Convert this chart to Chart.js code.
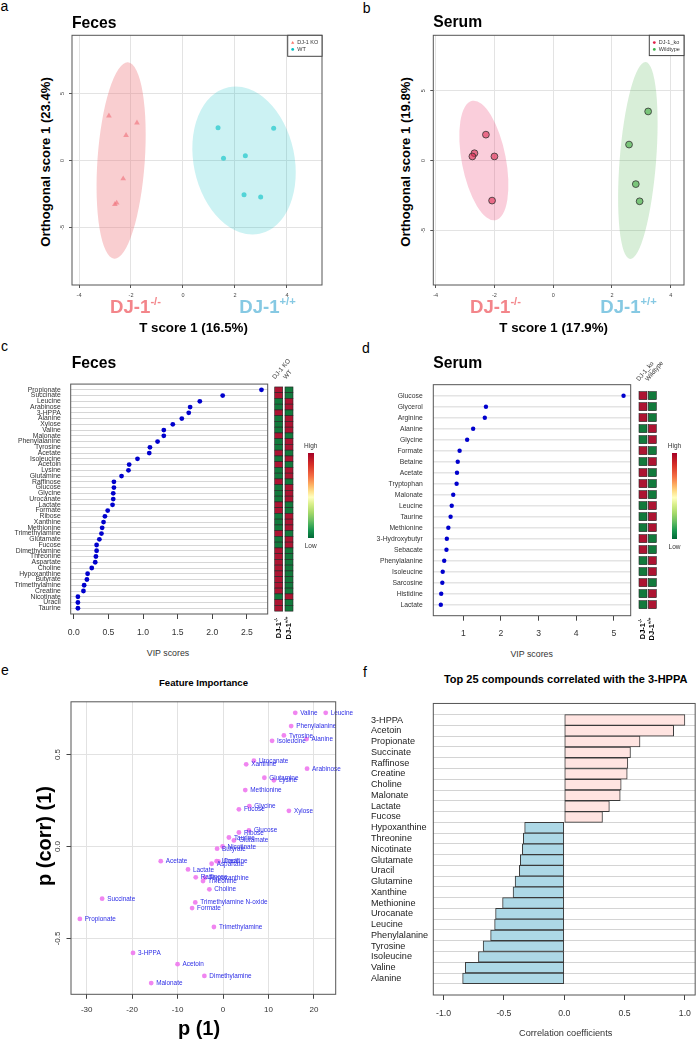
<!DOCTYPE html>
<html>
<head>
<meta charset="utf-8">
<title>DJ-1 metabolomics</title>
<script src="https://cdn.jsdelivr.net/npm/chart.js@4.4.1/dist/chart.umd.min.js"></script>
<style>
  body { margin: 0; width: 699px; height: 1039px; position: relative; overflow: hidden; background: #fff;
         font-family: "Liberation Sans", Arial, sans-serif; color: #000; }
  canvas { position: absolute; }
  .t { position: absolute; white-space: nowrap; line-height: 1; }
  .t sup { font-size: 60%; line-height: 0; vertical-align: 0.7em; }
  .c { transform: translate(-50%, -50%); }
  .l { transform: translateY(-50%); }
  .r { transform: translate(-50%, -50%) rotate(-90deg); }
  .h { transform-origin: 0 100%; transform: rotate(-50deg); font-size: 6.3px; color: #333; }
  .ko { color: #F3858A; font-weight: bold; font-size: 18.6px; }
  .wt { color: #86C9E3; font-weight: bold; font-size: 18.6px; }
  .ttl { font-weight: bold; font-size: 15.7px; }
  .let { font-size: 14px; }
  .scale { position: absolute; width: 6px;
           background: linear-gradient(to bottom, #A50026, #D73027 14%, #F46D43 27%, #FDAE61 37%, #FEE08B 45%, #FFFFBF 52%, #D9EF8B 60%, #A6D96A 70%, #66BD63 80%, #1A9850 90%, #006837); }
  .small { font-size: 6.5px; color: #333; }
  .dj { font-size: 7.5px; font-weight: bold; }
</style>
</head>
<body>

<canvas id="ca" width="270" height="275" style="left:60px;top:28px"></canvas>
<canvas id="cb" width="275" height="275" style="left:415px;top:28px"></canvas>
<canvas id="cc" width="330" height="275" style="left:0px;top:370px"></canvas>
<canvas id="cd" width="339" height="275" style="left:360px;top:370px"></canvas>
<canvas id="ce" width="320" height="330" style="left:40px;top:695px"></canvas>
<canvas id="cf" width="328" height="330" style="left:371px;top:695px"></canvas>

<!-- panel letters and titles -->
<div class="t c let" style="left:4.5px;top:5.5px">a</div>
<div class="t c let" style="left:366.7px;top:8px">b</div>
<div class="t c let" style="left:4.5px;top:346.3px">c</div>
<div class="t c let" style="left:365.8px;top:347.5px">d</div>
<div class="t c let" style="left:5px;top:670px">e</div>
<div class="t c let" style="left:365px;top:672px">f</div>

<div class="t l ttl" style="left:72px;top:22.7px">Feces</div>
<div class="t l ttl" style="left:433.3px;top:22.3px">Serum</div>
<div class="t l ttl" style="left:71.7px;top:363px">Feces</div>
<div class="t l ttl" style="left:433.3px;top:363px">Serum</div>

<!-- score plot axis titles -->
<div class="t r" style="left:45.7px;top:162px;font-weight:bold;font-size:13.1px">Orthogonal score 1 (23.4%)</div>
<div class="t r" style="left:406px;top:161.5px;font-weight:bold;font-size:13.1px">Orthogonal score 1 (19.8%)</div>
<div class="t c ko" style="left:135.5px;top:306.7px">DJ-1<sup>-/-</sup></div>
<div class="t c wt" style="left:267.5px;top:306.7px">DJ-1<sup>+/+</sup></div>
<div class="t c ko" style="left:495.5px;top:306.7px">DJ-1<sup>-/-</sup></div>
<div class="t c wt" style="left:628.5px;top:306.7px">DJ-1<sup>+/+</sup></div>
<div class="t c" style="left:193.5px;top:328px;font-weight:bold;font-size:13.3px">T score 1 (16.5%)</div>
<div class="t c" style="left:553.7px;top:328px;font-weight:bold;font-size:13.3px">T score 1 (17.9%)</div>

<!-- VIP panels extras -->
<div class="t c" style="left:168px;top:652.7px;font-size:8.8px;color:#333">VIP scores</div>
<div class="t c" style="left:531.7px;top:653.7px;font-size:8.8px;color:#333">VIP scores</div>
<div class="t h" style="left:276px;top:373.7px">DJ-1 KO</div>
<div class="t h" style="left:286.5px;top:373.7px">WT</div>
<div class="t h" style="left:640px;top:376px">DJ-1_ko</div>
<div class="t h" style="left:649px;top:376px">Wildtype</div>
<div class="t r dj" style="left:278.7px;top:628px">DJ-1<sup>-/-</sup></div>
<div class="t r dj" style="left:289px;top:628px">DJ-1<sup>+/+</sup></div>
<div class="t r dj" style="left:643px;top:628.5px">DJ-1<sup>-/-</sup></div>
<div class="t r dj" style="left:652.3px;top:628.5px">DJ-1<sup>+/+</sup></div>
<div class="scale" style="left:307.7px;top:453.3px;height:85px"></div>
<div class="scale" style="left:671.7px;top:453.3px;height:86px;width:5.6px"></div>
<div class="t c small" style="left:310.7px;top:445.7px">High</div>
<div class="t c small" style="left:310.7px;top:545.7px">Low</div>
<div class="t c small" style="left:674.5px;top:445.7px">High</div>
<div class="t c small" style="left:674.5px;top:546.7px">Low</div>

<!-- e / f titles -->
<div class="t c" style="left:203.5px;top:682.7px;font-weight:bold;font-size:9.6px">Feature Importance</div>
<div class="t r" style="left:43.5px;top:836px;font-weight:bold;font-size:20px">p (corr) (1)</div>
<div class="t c" style="left:199px;top:1028px;font-weight:bold;font-size:20px">p (1)</div>
<div class="t c" style="left:565.7px;top:679.3px;font-weight:bold;font-size:11px">Top 25 compounds correlated with the 3-HPPA</div>
<div class="t c" style="left:565.7px;top:1034.3px;font-size:9.2px;color:#333">Correlation coefficients</div>

<script>
// ---- a: feces OPLS-DA scores ----
const aKoX = [-2.85, -1.77, -2.19, -2.30, -2.55, -2.62];
const aKoY = [3.34, 2.82, 1.88, -1.36, -3.17, -3.27];
const aWtX = [1.35, 3.49, 1.56, 2.40, 2.35, 2.99];
const aWtY = [2.45, 2.40, 0.17, 0.35, -2.55, -2.72];
// confidence ellipses: [cx, cy, rx, ry, rotation deg]
const aKoEllipse = [-2.38, 0, 0.91, 7.35, 4];
const aWtEllipse = [2.35, 0, 1.94, 5.6, -12];
const aXTicks = [-4, -2, 0, 2, 4];
const aYTicks = [-5, 0, 5];

// ---- b: serum OPLS-DA scores ----
const bKoX = [-2.29, -2.68, -2.75, -2.00, -2.08];
const bKoY = [1.85, 0.52, 0.29, 0.29, -2.87];
const bWtX = [3.23, 2.58, 2.81, 2.94];
const bWtY = [3.51, 1.14, -1.69, -2.92];
const bKoEllipse = [-2.36, 0, 0.75, 4.35, -11];
const bWtEllipse = [2.88, 0, 0.62, 7.07, 4.5];
const bXTicks = [-4, -2, 0, 2, 4];
const bYTicks = [-5, 0, 5];

// ---- c: feces VIP ----
const fecesNames = ['Propionate', 'Succinate', 'Leucine', 'Arabinose', '3-HPPA', 'Alanine', 'Xylose', 'Valine',
  'Malonate', 'Phenylalanine', 'Tyrosine', 'Acetate', 'Isoleucine', 'Acetoin', 'Lysine', 'Glutamine', 'Raffinose',
  'Glucose', 'Glycine', 'Urocanate', 'Lactate', 'Formate', 'Ribose', 'Xanthine', 'Methionine', 'Trimethylamine',
  'Glutamate', 'Fucose', 'Dimethylamine', 'Threonine', 'Aspartate', 'Choline', 'Hypoxanthine', 'Butyrate',
  'Trimethylamine', 'Creatine', 'Nicotinate', 'Uracil', 'Taurine'];
const fecesVip = [2.71, 2.15, 1.82, 1.68, 1.66, 1.56, 1.43, 1.30, 1.30, 1.21, 1.10, 1.09, 0.92, 0.80, 0.79, 0.69,
  0.58, 0.58, 0.57, 0.57, 0.56, 0.49, 0.45, 0.43, 0.41, 0.40, 0.37, 0.33, 0.33, 0.32, 0.31, 0.26, 0.20, 0.19,
  0.15, 0.14, 0.06, 0.06, 0.06];
// 1 = higher in DJ-1 KO (red in KO column)
const fecesKoHigh = [1, 1, 0, 0, 1, 0, 0, 0, 1, 0, 0, 1, 0, 1, 0, 0, 1, 0, 0, 0, 1, 1, 0, 0, 0, 1, 0, 0, 1, 1,
  1, 1, 1, 1, 1, 1, 0, 1, 1];
const fecesVipTicks = [0, 0.5, 1, 1.5, 2, 2.5];

// ---- d: serum VIP ----
const serumNames = ['Glucose', 'Glycerol', 'Arginine', 'Alanine', 'Glycine', 'Formate', 'Betaine', 'Acetate',
  'Tryptophan', 'Malonate', 'Leucine', 'Taurine', 'Methionine', '3-Hydroxybutyr', 'Sebacate', 'Phenylalanine',
  'Isoleucine', 'Sarcosine', 'Histidine', 'Lactate'];
const serumVip = [5.26, 1.60, 1.57, 1.26, 1.10, 0.90, 0.85, 0.83, 0.82, 0.73, 0.69, 0.66, 0.60, 0.56, 0.55, 0.49,
  0.45, 0.44, 0.41, 0.40];
const serumKoHigh = [1, 1, 1, 0, 0, 1, 0, 1, 1, 1, 0, 0, 0, 1, 1, 0, 0, 1, 0, 0];
const serumVipTicks = [1, 2, 3, 4, 5];

// ---- e: S-plot ----
const eNames = ['Valine', 'Leucine', 'Phenylalanine', 'Tyrosine', 'Isoleucine', 'Alanine', 'Urocanate', 'Xanthine',
  'Arabinose', 'Glutamine', 'Lysine', 'Methionine', 'Glycine', 'Fucose', 'Xylose', 'Glucose', 'Ribose', 'Taurine',
  'Glutamate', 'Nicotinate', 'Butyrate', 'Acetate', 'Uracil', 'Creatine', 'Aspartate', 'Lactate', 'Raffinose',
  'Hypoxanthine', 'Threonine', 'Choline', 'Succinate', 'Trimethylamine N-oxide', 'Formate', 'Propionate',
  'Trimethylamine', '3-HPPA', 'Acetoin', 'Dimethylamine', 'Malonate'];
const eP = [15.9, 22.6, 15.0, 13.4, 10.8, 18.4, 6.8, 5.1, 18.5, 9.1, 11.2, 4.9, 5.8, 3.5, 14.5, 5.7, 3.5, 1.3,
  2.4, -0.1, -1.3, -13.7, -1.4, -1.0, -2.5, -7.7, -6.0, -4.0, -4.4, -3.0, -26.6, -6.1, -6.8, -31.5, -2.0, -19.8,
  -10.0, -4.1, -15.8];
const ePcorr = [0.727, 0.727, 0.655, 0.604, 0.575, 0.584, 0.467, 0.447, 0.423, 0.374, 0.360, 0.307, 0.219, 0.202,
  0.194, 0.088, 0.076, 0.049, 0.033, 0.0, -0.012, -0.080, -0.080, -0.081, -0.094, -0.125, -0.168, -0.170, -0.188,
  -0.233, -0.284, -0.304, -0.335, -0.394, -0.438, -0.579, -0.640, -0.704, -0.743];
const eXTicks = [-30, -20, -10, 0, 10, 20];
const eYTicks = [-0.5, 0, 0.5];

// ---- f: correlation with 3-HPPA ----
const fNames = ['3-HPPA', 'Acetoin', 'Propionate', 'Succinate', 'Raffinose', 'Creatine', 'Choline', 'Malonate',
  'Lactate', 'Fucose', 'Hypoxanthine', 'Threonine', 'Nicotinate', 'Glutamate', 'Uracil', 'Glutamine', 'Xanthine',
  'Methionine', 'Urocanate', 'Leucine', 'Phenylalanine', 'Tyrosine', 'Isoleucine', 'Valine', 'Alanine'];
const fCorr = [1.0, 0.907, 0.628, 0.549, 0.527, 0.522, 0.472, 0.464, 0.374, 0.317, -0.328, -0.339, -0.347, -0.364,
  -0.372, -0.407, -0.424, -0.511, -0.569, -0.577, -0.610, -0.672, -0.711, -0.820, -0.842];
const fTicks = [-1, -0.5, 0, 0.5, 1];

const FONT = '"Liberation Sans", Arial, sans-serif';
Chart.defaults.font.family = FONT;
Chart.defaults.color = '#333';
Chart.defaults.animation = false;
Chart.defaults.plugins.legend.display = false;
Chart.defaults.plugins.tooltip.enabled = false;

const HI = '#AD1432', LO = '#127A3C';

// box around the plotting region
Chart.register({
  id: 'frame',
  afterDraw(chart) {
    const { ctx, chartArea: a } = chart;
    ctx.save();
    ctx.strokeStyle = '#555';
    ctx.lineWidth = 1;
    ctx.strokeRect(a.left, a.top, a.right - a.left, a.bottom - a.top);
    ctx.restore();
  }
});

// filled confidence ellipses, in data units
Chart.register({
  id: 'ellipses',
  beforeDatasetsDraw(chart, args, o) {
    if (!o.items) return;
    const { ctx, scales: { x, y } } = chart;
    ctx.save();
    ctx.beginPath();
    ctx.rect(chart.chartArea.left, chart.chartArea.top, chart.chartArea.width, chart.chartArea.height);
    ctx.clip();
    o.items.forEach(({ e, color }) => {
      const [cx, cy, rx, ry, rot] = e;
      const px = x.getPixelForValue(cx), py = y.getPixelForValue(cy);
      const rpx = Math.abs(x.getPixelForValue(cx + rx) - px);
      const rpy = Math.abs(y.getPixelForValue(cy + ry) - py);
      ctx.beginPath();
      ctx.ellipse(px, py, rpx, rpy, rot * Math.PI / 180, 0, Math.PI * 2);
      ctx.fillStyle = color;
      ctx.fill();
    });
    ctx.restore();
  }
});

// small boxed legend in the top-right corner
Chart.register({
  id: 'boxLegend',
  afterDraw(chart, args, o) {
    if (!o.items) return;
    const { ctx, chartArea: a } = chart;
    const x0 = a.right - o.w, y0 = a.top;
    ctx.save();
    ctx.fillStyle = '#fff';
    ctx.fillRect(x0, y0, o.w, o.h);
    ctx.strokeStyle = '#444';
    ctx.strokeRect(x0, y0, o.w, o.h);
    ctx.font = '5.5px ' + FONT;
    ctx.textBaseline = 'middle';
    o.items.forEach((it, i) => {
      const y = y0 + 7.3 + i * 6.8;
      const x = x0 + 5;
      ctx.fillStyle = it.color;
      ctx.beginPath();
      if (it.style === 'triangle') {
        ctx.moveTo(x, y - 1.6); ctx.lineTo(x + 1.6, y + 1.2); ctx.lineTo(x - 1.6, y + 1.2); ctx.closePath();
      } else {
        ctx.arc(x, y, 1.4, 0, Math.PI * 2);
      }
      ctx.fill();
      ctx.fillStyle = '#333';
      ctx.fillText(it.text, x + 4.5, y);
    });
    ctx.restore();
  }
});

// two-column high/low heat strip beside the VIP plot, rows from the y scale
Chart.register({
  id: 'heat',
  afterDraw(chart, args, o) {
    if (!o.flags) return;
    const { ctx, chartArea: a, scales: { y } } = chart;
    const step = Math.abs(y.getPixelForValue(1) - y.getPixelForValue(0));
    const h = o.h || step;
    ctx.save();
    ctx.strokeStyle = '#222';
    ctx.lineWidth = 0.6;
    o.flags.forEach((f, i) => {
      const py = y.getPixelForValue(i + 1);
      [f ? HI : LO, f ? LO : HI].forEach((c, j) => {
        const x = a.right + o.offsets[j];
        ctx.fillStyle = c;
        ctx.fillRect(x, py - h / 2, o.w, h);
        ctx.strokeRect(x, py - h / 2, o.w, h);
      });
    });
    ctx.restore();
  }
});

// text labels beside scatter points
Chart.register({
  id: 'pointLabels',
  afterDatasetsDraw(chart, args, o) {
    if (!o.labels) return;
    const { ctx } = chart;
    const meta = chart.getDatasetMeta(0);
    ctx.save();
    ctx.font = '6.4px ' + FONT;
    ctx.fillStyle = '#2E2EE6';
    ctx.textBaseline = 'middle';
    meta.data.forEach((pt, i) => ctx.fillText(o.labels[i], pt.x + 5, pt.y + 0.3));
    ctx.restore();
  }
});

const pts = (xs, ys) => xs.map((x, i) => ({ x, y: ys[i] }));
const setTicks = arr => s => { s.ticks = arr.map(v => ({ value: v })); };
const fixW = w => s => { s.width = w; };
const fixH = h => s => { s.height = h; };

function scoreAxes(xr, yr, xt, yt, wy, hx) {
  return {
    x: {
      type: 'linear', min: xr[0], max: xr[1],
      afterBuildTicks: setTicks(xt), afterFit: fixH(hx),
      grid: { color: '#E3E3E3', tickLength: 3, tickColor: '#555' },
      border: { display: false },
      ticks: { font: { size: 5.5 }, padding: 4, color: '#444', maxRotation: 0, autoSkip: false }
    },
    y: {
      type: 'linear', min: yr[0], max: yr[1],
      afterBuildTicks: setTicks(yt), afterFit: fixW(wy),
      grid: { color: '#E3E3E3', tickLength: 3, tickColor: '#555' },
      border: { display: false },
      ticks: { font: { size: 5.5 }, padding: 4, color: '#444', minRotation: 90, maxRotation: 90,
               crossAlign: 'center', autoSkip: false }
    }
  };
}

// a
new Chart(document.getElementById('ca'), {
  type: 'scatter',
  data: {
    datasets: [
      { data: pts(aKoX, aKoY), pointStyle: 'triangle', radius: 3.3, borderWidth: 0,
        backgroundColor: 'rgba(240,110,120,0.6)' },
      { data: pts(aWtX, aWtY), pointStyle: 'circle', radius: 2.5, borderWidth: 0,
        backgroundColor: 'rgba(0,191,196,0.6)' }
    ]
  },
  options: {
    responsive: false,
    layout: { padding: { top: 6, right: 8, left: 0, bottom: 0 } },
    plugins: {
      ellipses: { items: [
        { e: aKoEllipse, color: 'rgba(238,118,126,0.36)' },
        { e: aWtEllipse, color: 'rgba(0,191,196,0.2)' }
      ] },
      boxLegend: { w: 34.3, h: 21, items: [
        { text: 'DJ-1 KO', style: 'triangle', color: '#F8766D' },
        { text: 'WT', style: 'circle', color: '#00BFC4' }
      ] }
    },
    scales: scoreAxes([-4.27, 5.35], [-9.3, 9.35], aXTicks, aYTicks, 12, 18)
  }
});

// b
new Chart(document.getElementById('cb'), {
  type: 'scatter',
  data: {
    datasets: [
      { data: pts(bKoX, bKoY), pointStyle: 'circle', radius: 3.4, borderWidth: 0.8, borderColor: '#333',
        backgroundColor: 'rgba(222,40,80,0.6)' },
      { data: pts(bWtX, bWtY), pointStyle: 'circle', radius: 3.4, borderWidth: 0.8, borderColor: '#333',
        backgroundColor: 'rgba(60,170,60,0.6)' }
    ]
  },
  options: {
    responsive: false,
    layout: { padding: { top: 6.3, right: 6, left: 0, bottom: 0 } },
    plugins: {
      ellipses: { items: [
        { e: bKoEllipse, color: 'rgba(235,60,110,0.25)' },
        { e: bWtEllipse, color: 'rgba(60,170,60,0.2)' }
      ] },
      boxLegend: { w: 34.7, h: 20.3, items: [
        { text: 'DJ-1_ko', style: 'circle', color: '#E0204A' },
        { text: 'Wildtype', style: 'circle', color: '#3CB04A' }
      ] }
    },
    scales: scoreAxes([-4.08, 4.45], [-8.91, 8.96], bXTicks, bYTicks, 18.3, 18)
  }
});

function vipChart(id, names, vals, flags, xr, xt, dec, o) {
  return new Chart(document.getElementById(id), {
    type: 'scatter',
    data: { datasets: [{ data: vals.map((v, i) => ({ x: v, y: i + 1 })), radius: o.r, borderWidth: 0,
                         backgroundColor: '#0000CD' }] },
    options: {
      responsive: false,
      layout: { padding: { top: o.pt, right: o.pr, left: 0, bottom: 0 } },
      plugins: { heat: { flags, offsets: o.offsets, w: 8, h: o.cellH } },
      scales: {
        x: {
          type: 'linear', min: xr[0], max: xr[1],
          afterBuildTicks: setTicks(xt), afterFit: fixH(o.hx),
          grid: { drawOnChartArea: false, tickLength: 5, tickColor: '#444' },
          border: { display: false },
          ticks: { font: { size: 8.6 }, padding: 8, color: '#333', maxRotation: 0, autoSkip: false,
                   callback: v => v.toFixed(dec) }
        },
        y: {
          type: 'linear', reverse: true, min: 0, max: names.length + 1,
          afterBuildTicks: setTicks(names.map((n, i) => i + 1)), afterFit: fixW(o.wy),
          grid: { color: o.gridColor, lineWidth: o.gridW, drawTicks: false },
          border: { display: false },
          ticks: { font: { size: 6.8 }, padding: o.pad, color: '#333', autoSkip: false,
                   callback: v => names[v - 1] }
        }
      }
    }
  });
}

// c
vipChart('cc', fecesNames, fecesVip, fecesKoHigh, [-0.044, 2.8], fecesVipTicks, 1,
  { r: 2.4, pt: 6.7, pr: 62.3, hx: 31, wy: 70.7, pad: 10, offsets: [7, 17.3], cellH: null,
    gridColor: '#D6D6D6', gridW: 1 });

// d
vipChart('cd', serumNames, serumVip, serumKoHigh, [0.2, 5.45], serumVipTicks, 0,
  { r: 2.2, pt: 6.7, pr: 68.3, hx: 29.3, wy: 73.3, pad: 10.6, offsets: [8.3, 17.6], cellH: 8,
    gridColor: '#E4E4E4', gridW: 1.6 });

// e
new Chart(document.getElementById('ce'), {
  type: 'scatter',
  data: { datasets: [{ data: pts(eP, ePcorr), radius: 2.4, borderWidth: 0, backgroundColor: 'rgba(238,120,238,0.9)' }] },
  options: {
    responsive: false,
    layout: { padding: { top: 6, right: 24.3, left: 0, bottom: 0 } },
    plugins: { pointLabels: { labels: eNames } },
    scales: {
      x: {
        type: 'linear', min: -33.45, max: 24.8,
        afterBuildTicks: setTicks(eXTicks), afterFit: fixH(30.7),
        grid: { color: '#E2E2E2', tickLength: 4.5, tickColor: '#444' },
        border: { display: false },
        ticks: { font: { size: 8 }, padding: 6, color: '#333', maxRotation: 0, autoSkip: false }
      },
      y: {
        type: 'linear', min: -0.804, max: 0.787,
        afterBuildTicks: setTicks(eYTicks), afterFit: fixW(31),
        grid: { color: '#E2E2E2', tickLength: 4.5, tickColor: '#444' },
        border: { display: false },
        ticks: { font: { size: 8 }, padding: 2, color: '#333', minRotation: 90, maxRotation: 90,
                 crossAlign: 'center', autoSkip: false, callback: v => v.toFixed(1) }
      }
    }
  }
});

// f
new Chart(document.getElementById('cf'), {
  type: 'bar',
  data: {
    datasets: [{
      data: fCorr.map((v, i) => ({ x: v, y: i + 1 })),
      backgroundColor: fCorr.map(v => v > 0 ? '#FFE4E1' : '#ADD8E6'),
      borderColor: '#3A3A3A', borderWidth: 1, borderSkipped: false,
      barPercentage: 1, categoryPercentage: 1
    }]
  },
  options: {
    indexAxis: 'y',
    responsive: false,
    layout: { padding: { top: 6, right: 1.3, left: 0, bottom: 0 } },
    scales: {
      x: {
        type: 'linear', min: -1.085, max: 1.085,
        afterBuildTicks: setTicks(fTicks), afterFit: fixH(30),
        grid: { drawOnChartArea: false, tickLength: 5, tickColor: '#444' },
        border: { display: false },
        ticks: { font: { size: 8.7 }, padding: 8, color: '#333', maxRotation: 0, autoSkip: false,
                 callback: v => v.toFixed(1) }
      },
      y: {
        type: 'linear', reverse: true, min: 0, max: fNames.length + 1,
        afterBuildTicks: setTicks(fNames.map((n, i) => i + 1)), afterFit: fixW(62.3),
        grid: { color: '#D4D4D4', drawTicks: false },
        border: { display: false },
        ticks: { font: { size: 9.1 }, color: '#222', crossAlign: 'far', autoSkip: false,
                 callback: v => fNames[v - 1] }
      }
    }
  }
});
</script>
</body>
</html>
